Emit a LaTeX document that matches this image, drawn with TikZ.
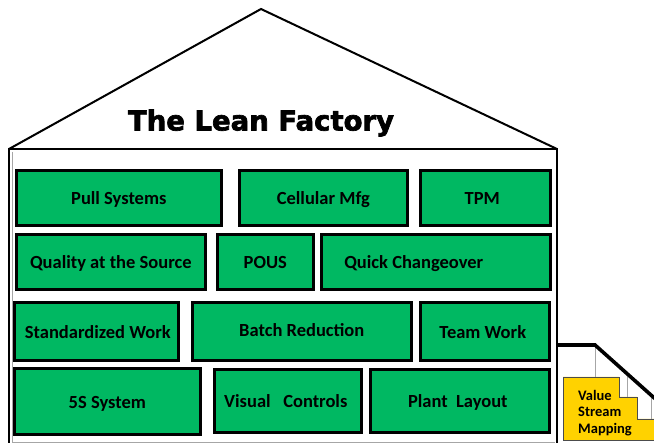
\documentclass[tikz,border=0pt]{standalone}
\usepackage{fontspec}
\setmainfont{Carlito}
\newfontfamily\titlefont[FakeBold=2.5]{DejaVu Sans}
\definecolor{leangreen}{HTML}{00B862}
\definecolor{vsmyellow}{HTML}{FFD200}
\tikzset{
  brick/.style={draw=black, line width=2.6pt, fill=leangreen, anchor=north west,
    inner sep=0pt, text height=14.2pt, text depth=0pt,
    font=\fontsize{18.5}{21}\selectfont\bfseries, text=black},
  wall/.style={line width=2.6pt, draw=black},
  roof/.style={line width=2pt, draw=black, line join=miter},
  thingray/.style={draw=gray!70, line width=0.8pt},
}
\begin{document}
\begin{tikzpicture}[x=1pt,y=-1pt]
\useasboundingbox (0,0) rectangle (654,443);
\clip (0,0) rectangle (654,443);
% inner gray lines
\draw[thingray] (12,152) -- (12,442) -- (555,442);
% roof
\coordinate (eaveL) at (9,149);
\coordinate (apex) at (261,9);
\coordinate (eaveR) at (557,149);
\draw[roof] (eaveL) -- (apex) -- (eaveR);
% walls
\coordinate (baseL) at (9,445);
\coordinate (baseR) at (557,445);
\draw[wall] (baseL) -- (eaveL) -- (eaveR) -- (baseR);
% title
\node (title) at (261,123) {\titlefont\bfseries\fontsize{27.5}{30}\selectfont The Lean Factory};
% row 1
\node[brick, minimum width=205pt, minimum height=55pt] (ps) at (15,169) {Pull Systems};
\node[brick, minimum width=168pt, minimum height=55pt] (cm) at (238,169) {Cellular Mfg};
\node[brick, minimum width=130pt, minimum height=55pt] (tpm) at (419,169) {TPM\hspace*{6pt}};
% row 2
\node[brick, minimum width=189pt, minimum height=55pt] (qs) at (15,233) {Quality at the Source};
\node[brick, minimum width=96pt, minimum height=55pt] (pous) at (216,233) {POUS};
\node[brick, minimum width=229pt, minimum height=55pt] (qc) at (320,233) {Quick Changeover\hspace*{44pt}};
% row 3
\node[brick, minimum width=164pt, minimum height=58pt] (sw) at (13,301) {\hspace*{3pt}Standardized Work};
\node[brick, minimum width=219pt, minimum height=58pt] (br) at (191,301) {\raisebox{2pt}{Batch Reduction}};
\node[brick, minimum width=129pt, minimum height=58pt] (tw) at (419,301) {Team Work\hspace*{4pt}};
% row 4
\node[brick, minimum width=186pt, minimum height=66pt] (ss) at (13,367) {5S System};
\node[brick, minimum width=147pt, minimum height=63pt] (vc) at (213,368) {Visual\ \ \ Controls\hspace*{4pt}};
\node[brick, minimum width=179pt, minimum height=63pt] (pl) at (369,368) {Plant\ \ Layout\hspace*{4pt}};
% value stream mapping staircase
\fill[vsmyellow, draw=gray!60!black, line width=0.6pt]
  (563,377) -- (619,377) -- (619,397) -- (637,397) -- (637,419) -- (670,419)
  -- (670,440) -- (563,440) -- cycle;
\node[anchor=west, inner sep=0pt, align=left, font=\fontsize{14.5}{16.5}\selectfont\bfseries] (vsm)
  at (578,413) {Value\\Stream\\Mapping};
\coordinate (s0) at (558,345);
\coordinate (s1) at (595,345);
\coordinate (s2) at (680,421);
\draw[thingray] (s1) -- (595,377);
\draw[thingray] (627,374) -- (627,397);
\draw[thingray] (651,396) -- (651,419);
\draw[line width=3.6pt] (s0) -- (s1) -- (s2);
\end{tikzpicture}
\end{document}
